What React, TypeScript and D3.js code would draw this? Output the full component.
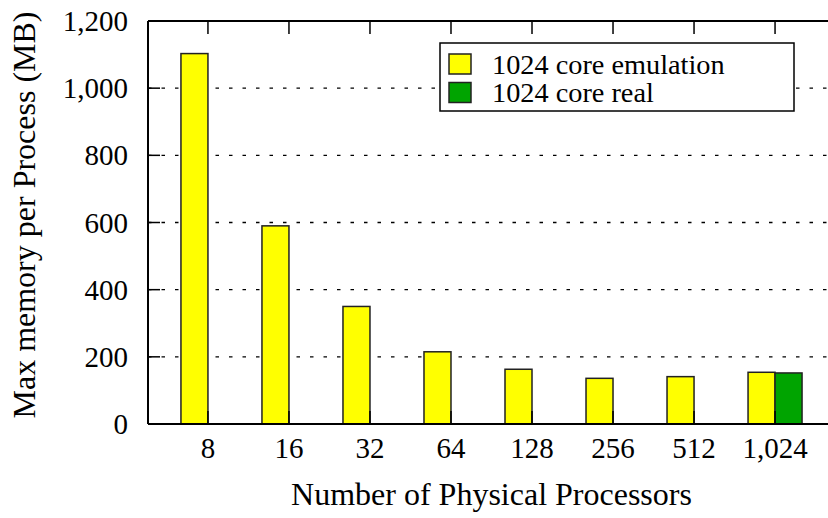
import React from "react";
import * as d3 from "d3";

const categories = ["8", "16", "32", "64", "128", "256", "512", "1,024"];
const emulation = [1103, 590, 350, 215, 163, 136, 141, 154];
const real: (number | null)[] = [null, null, null, null, null, null, null, 152];
const seriesNames = ["1024 core emulation", "1024 core real"];
const seriesColors = ["#ffff00", "#00a400"];
const yTicks = [0, 200, 400, 600, 800, 1000, 1200];

const W = 828;
const H = 518;
const left = 148;
const right = 835;
const top = 21;
const bottom = 424;
const FONT = "Liberation Serif";

export default function App() {
  const x = d3.scalePoint<string>().domain(categories).range([left, right]).padding(0.74);
  const step = x.step();
  const groupW = step * (54 / 81);
  const xs = d3.scaleBand<number>().domain([0, 1]).range([-groupW / 2, groupW / 2]).padding(0);
  const y = d3.scaleLinear().domain([0, 1200]).range([bottom, top]);
  const fmt = d3.format(",");
  const series = [emulation, real];
  const ts = (size: number): React.CSSProperties => ({ fontFamily: FONT, fontSize: size });

  return (
    <svg width={W} height={H} style={{ position: "absolute", left: 0, top: 0 }}>
      <rect x={0} y={0} width={W} height={H} fill="#fff" />
      {yTicks.filter((t) => t > 0 && t < 1200).map((t) => (
        <line key={"g" + t} x1={left} x2={right} y1={y(t)} y2={y(t)} stroke="#000" strokeWidth={1.3} strokeDasharray="3.5,10" />
      ))}
      {series.map((vals, si) =>
        vals.map((v, i) =>
          v == null ? null : (
            <rect
              key={si + "-" + i}
              x={(x(categories[i]) as number) + (xs(si) as number)}
              y={y(v)}
              width={xs.bandwidth()}
              height={bottom - y(v)}
              fill={seriesColors[si]}
              stroke="#222"
              strokeWidth={1.5}
            />
          )
        )
      )}
      <line x1={left} x2={left} y1={top} y2={bottom} stroke="#000" strokeWidth={2} />
      <line x1={left} x2={right} y1={top} y2={top} stroke="#000" strokeWidth={2} />
      <line x1={left} x2={right} y1={bottom} y2={bottom} stroke="#000" strokeWidth={2} />
      {yTicks.map((t) => (
        <g key={"y" + t}>
          <line x1={left} x2={left + 12} y1={y(t)} y2={y(t)} stroke="#000" strokeWidth={1.5} />
          <text x={128} y={y(t)} dy="0.35em" textAnchor="end" style={ts(29)}>
            {fmt(t)}
          </text>
        </g>
      ))}
      {categories.map((c) => (
        <g key={"x" + c}>
          <line x1={x(c)} x2={x(c)} y1={top} y2={top + 13} stroke="#000" strokeWidth={1.5} />
          <line x1={x(c)} x2={x(c)} y1={bottom} y2={bottom - 13} stroke="#000" strokeWidth={1.5} />
          <text x={x(c)} y={458} textAnchor="middle" style={ts(29)}>
            {c}
          </text>
        </g>
      ))}
      <text x={(left + right) / 2} y={505} textAnchor="middle" style={ts(32)}>
        Number of Physical Processors
      </text>
      <text transform={`translate(35,215) rotate(-90)`} textAnchor="middle" style={ts(32)}>
        Max memory per Process (MB)
      </text>
      <rect x={440} y={43} width={354} height={68} fill="#fff" stroke="#000" strokeWidth={1.5} />
      {seriesNames.map((n, i) => (
        <g key={n}>
          <rect x={449} y={54 + i * 28.5} width={22} height={20} fill={seriesColors[i]} stroke="#222" strokeWidth={1.5} />
          <text x={492} y={64 + i * 28.5} dy="0.35em" style={ts(28.3)}>
            {n}
          </text>
        </g>
      ))}
    </svg>
  );
}
